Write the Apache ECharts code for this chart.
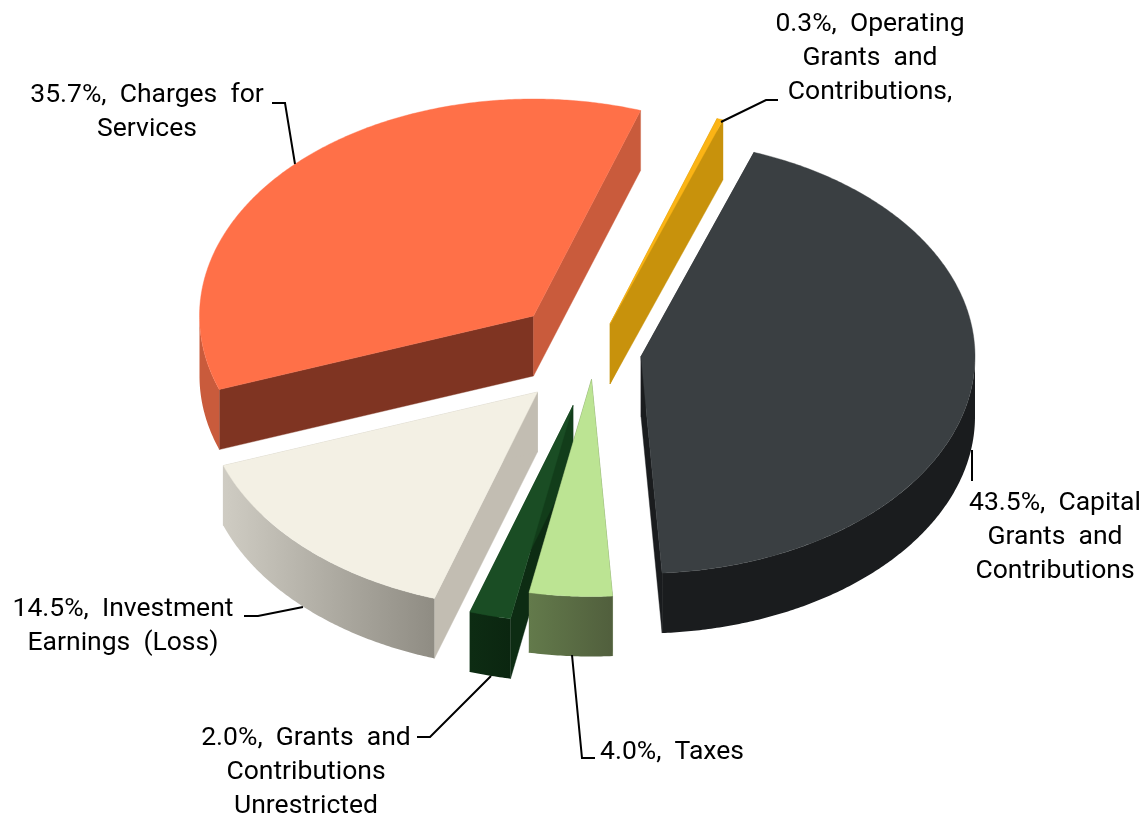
<!DOCTYPE html>
<html><head><meta charset="utf-8">
<style>html,body{margin:0;padding:0;background:#fff}#c{width:1148px;height:817px}</style>
<script src="https://cdn.jsdelivr.net/npm/echarts@6/dist/echarts.min.js"></script>
</head><body><div id="c"></div>
<script>
// --- data ---
const categories = ['Operating\nGrants  and\nContributions,', 'Capital\nGrants  and\nContributions', 'Taxes', 'Grants  and\nContributions\nUnrestricted', 'Investment\nEarnings  (Loss)', 'Charges  for\nServices'];
const shares = [0.3, 43.5, 4.0, 2.0, 14.5, 35.7];

// --- layout and styles ---
const rx = 334, ry = 217, depth = 60, startDeg = 18.7;
const sliceOrigin = [[610, 324], [641, 356.5], [591.5, 379.5], [573, 405.5], [537.5, 392], [533.5, 316]];
const paintOrder = [5, 0, 1, 4, 3, 2];
const topColors = ['#fbb415', '#3a3f42', '#bce493', '#1a4d24', '#f3f0e4', '#ff7048'];
const startCut = ['#c8920c', '#1a1c1e', '#5f7748', '#0d2c13', '#c2bdb2', '#7f3422'];
const endCut = ['#c8920c', '#1a1c1e', '#5f7748', '#123d1a', '#c2bdb2', '#c95b3c'];
const wallFrom = ['#c8920c', '#1a1c1e', '#637a4b', '#0d2c13', '#cfccc3', '#c95b3c'];
const wallTo = ['#c8920c', '#1a1c1e', '#515f3d', '#0b2610', '#8f8c83', '#c95b3c'];
const labelPos = [[870, 58.5, 'center'], [1055, 537, 'center'], [600, 752.5, 'left'], [306, 772.5, 'center'], [123, 626.5, 'center'], [147, 112.5, 'center']];
const leaders = [
  [[721, 122], [766, 100], [778, 100]],
  [[972, 450], [972, 481]],
  [[572, 655], [582, 758], [595, 758]],
  [[491, 676], [430, 737], [417, 737]],
  [[303, 607], [258, 616], [244, 616]],
  [[295, 164], [285, 103], [272, 103]]
];

const rad = d => d * Math.PI / 180;
const bounds = [];
shares.reduce((acc, v) => { const end = acc + v * 3.6; bounds.push([acc, end]); return end; }, startDeg);

function renderItem(params, api) {
  const i = api.value(1);
  const [a0, a1] = bounds[i];
  const [cx, cy] = sliceOrigin[i];
  const rim = a => [cx + rx * Math.sin(rad(a)), cy - ry * Math.cos(rad(a))];
  const down = p => [p[0], p[1] + depth];
  const arc = (s, t) => { const n = Math.max(2, Math.ceil(Math.abs(t - s) * 2)); const o = []; for (let k = 0; k <= n; k++) o.push(rim(s + (t - s) * k / n)); return o; };
  const apex = [cx, cy];
  const poly = (points, fill, stroke) => ({ type: 'polygon', shape: { points }, style: { fill, stroke, lineWidth: 0.4 } });
  const children = [];
  children.push(poly([apex, rim(a0), down(rim(a0)), down(apex)], startCut[i], startCut[i]));
  children.push(poly([apex, rim(a1), down(rim(a1)), down(apex)], endCut[i], endCut[i]));
  const w0 = Math.max(a0, 90), w1 = Math.min(a1, 270);
  if (w1 > w0) {
    const top = arc(w0, w1);
    const grad = new echarts.graphic.LinearGradient(0, 0, 1, 0, [{ offset: 0, color: wallFrom[i] }, { offset: 1, color: wallTo[i] }]);
    children.push(poly(top.concat(top.slice().reverse().map(down)), grad, null));
  }
  children.push(poly([apex].concat(arc(a0, a1)), topColors[i], topColors[i]));
  children.push({ type: 'polyline', shape: { points: leaders[i] }, style: { stroke: '#000', lineWidth: 2, fill: null } });
  const [lx, ly, align] = labelPos[i];
  children.push({
    type: 'text',
    style: {
      text: api.value(0).toFixed(1) + '%,  ' + categories[i],
      x: lx, y: ly, align, verticalAlign: 'middle',
      fill: '#000', font: '26.5px Roboto', lineHeight: 34
    }
  });
  return { type: 'group', children };
}

const chart = echarts.init(document.getElementById('c'), null, { renderer: 'canvas' });
chart.setOption({
  animation: false,
  backgroundColor: '#fff',
  series: [{
    type: 'custom',
    coordinateSystem: 'none',
    silent: true,
    renderItem,
    data: paintOrder.map(i => [shares[i], i])
  }]
});
</script></body></html>
